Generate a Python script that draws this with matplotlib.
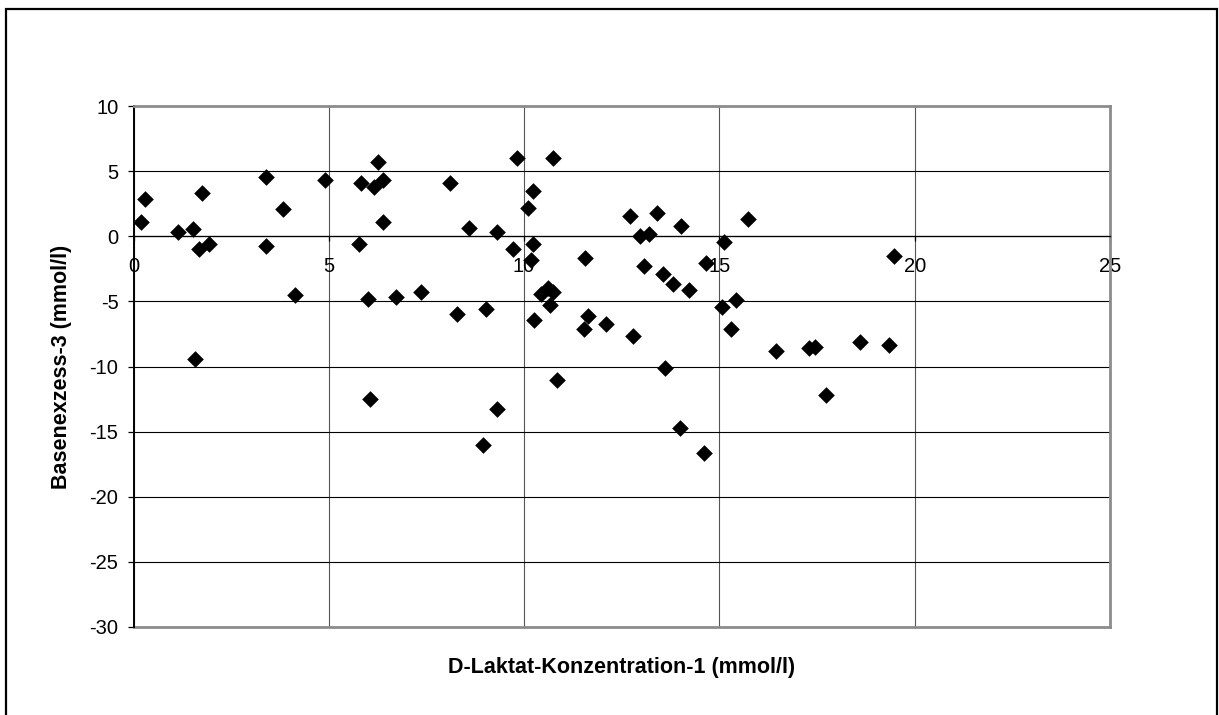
import numpy as np
import matplotlib.pyplot as plt
from matplotlib.patches import Rectangle

plt.rcParams['font.family'] = ['Liberation Sans', 'DejaVu Sans']
plt.rcParams['axes.unicode_minus'] = False

# Data
d_laktat = [0.2, 0.3, 1.15, 1.53, 1.58, 1.68, 1.76, 1.94, 3.4, 3.4,
            3.83, 4.14, 4.9, 5.83, 5.78, 6.0, 6.06, 6.16, 6.26, 6.39,
            6.39, 6.72, 7.36, 8.1, 8.28, 8.6, 9.03, 9.31, 9.31, 8.95,
            9.72, 9.82, 10.1, 10.23, 10.23, 10.18, 10.26, 10.43, 10.6, 10.67,
            10.74, 10.74, 10.85, 11.56, 11.54, 11.64, 12.1, 12.7, 12.8, 12.98,
            13.2, 13.07, 13.4, 13.55, 13.6, 13.8, 14.02, 14.0, 14.22, 14.66,
            14.6, 15.07, 15.12, 15.3, 15.43, 15.74, 16.45, 17.3, 17.45, 17.73,
            18.6, 19.35, 19.48]
basenexzess = [1.1, 2.85, 0.3, 0.55, -9.4, -1.0, 3.3, -0.6, 4.55, -0.75,
               2.1, -4.5, 4.3, 4.1, -0.6, -4.8, -12.5, 3.8, 5.7, 4.3,
               1.1, -4.7, -4.3, 4.1, -6.0, 0.65, -5.6, 0.35, -13.3, -16.0,
               -1.0, 6.0, 2.2, 3.5, -0.6, -1.8, -6.4, -4.4, -4.0, -5.3,
               -4.3, 6.0, -11.0, -1.7, -7.1, -6.1, -6.7, 1.55, -7.65, 0.0,
               0.2, -2.3, 1.8, -2.9, -10.1, -3.7, 0.8, -14.7, -4.1, -2.05,
               -16.65, -5.4, -0.45, -7.1, -4.9, 1.3, -8.8, -8.6, -8.5, -12.2,
               -8.1, -8.35, -1.5]

x_ticks = [0, 5, 10, 15, 20, 25]
y_ticks = [-30, -25, -20, -15, -10, -5, 0, 5, 10]

W, H = 1219, 715
fig = plt.figure(figsize=(W / 100, H / 100), dpi=100)

# outer chart border
fig.patches.append(Rectangle((6 / W, -0.02), 1211 / W, 1 - 8.5 / H + 0.02,
                             transform=fig.transFigure, fill=False,
                             edgecolor='black', linewidth=1.6))

ax = fig.add_axes([133.5 / W, 1 - 627 / H, (1110 - 133.5) / W, (627 - 106) / H])

ax.scatter(d_laktat, basenexzess, marker='D', s=72, color='black',
           linewidths=0, zorder=3)

ax.set_xlim(0, 25)
ax.set_ylim(-30, 10)
ax.set_xticks(x_ticks)
ax.set_yticks(y_ticks)

ax.set_axisbelow(True)
ax.grid(axis='y', color='black', linewidth=0.8)
ax.grid(axis='x', color='#555555', linewidth=0.8)

ax.spines['bottom'].set_position(('data', 0))
ax.spines['bottom'].set_color('black')
ax.spines['bottom'].set_linewidth(0.9)
ax.spines['left'].set_color('black')
ax.spines['left'].set_linewidth(1.4)
for side in ['top', 'right']:
    ax.spines[side].set_color('#8c8c8c')
    ax.spines[side].set_linewidth(2)
ax.plot([0, 1], [0, 0], transform=ax.transAxes, color='#8c8c8c',
        linewidth=2, clip_on=False, zorder=2)

ax.tick_params(axis='x', direction='out', length=3.6, width=0.9, pad=11.5,
               labelsize=14.5)
ax.tick_params(axis='y', direction='out', length=4.3, width=0.9, pad=6.5,
               labelsize=14.5)

ax.set_xlabel('D-Laktat-Konzentration-1 (mmol/l)', fontsize=15.5,
              fontweight='bold')
ax.xaxis.set_label_coords(0.5, -(667 - 627) / (627 - 106))
ax.set_ylabel('Basenexzess-3 (mmol/l)', fontsize=15.5, fontweight='bold')
ax.yaxis.set_label_coords(-(133.5 - 62) / (1110 - 133.5), 0.5)
ax.xaxis.label.set_va('center')
ax.yaxis.label.set_va('center')

fig.savefig('out.png', dpi=100)
